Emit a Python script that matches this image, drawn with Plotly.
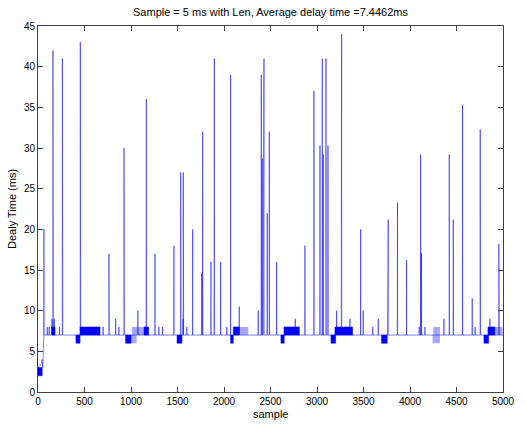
import plotly.graph_objects as go

# single-sample spikes above the 7 ms baseline: sample index and peak delay (ms)
spike_x = [64, 100, 120, 150, 161, 163, 175, 232, 262, 265, 455, 458, 700, 763, 765,
           835, 870, 925, 927, 1074, 1165, 1258, 1300, 1340, 1462, 1534, 1536, 1560,
           1562, 1565, 1600, 1663, 1760, 1770, 1772, 1860, 1893, 1896, 1898, 1964,
           2030, 2071, 2164, 2368, 2401, 2412, 2422, 2430, 2465, 2487, 2489, 2566,
           2766, 2870, 2967, 3030, 3032, 3034, 3057, 3068, 3096, 3099, 3118, 3211,
           3262, 3265, 3354, 3469, 3497, 3600, 3659, 3759, 3766, 3864, 3866, 3963,
           4099, 4114, 4124, 4160, 4365, 4422, 4424, 4465, 4467, 4565, 4669, 4700,
           4755, 4757, 4859, 4955, 4960]
spike_y = [20, 8, 8, 9, 42, 40, 9, 8, 41, 23.5, 43, 15.5, 8, 17, 9.5,
           9, 8, 30, 18.5, 10, 36, 17, 8, 8, 18, 27, 15.5, 9,
           27, 16, 8, 20, 14.6, 32, 22, 16, 37, 41, 23.5, 16,
           8, 39, 10.5, 10, 39, 28.7, 24, 41, 22, 32, 29.7, 16,
           9, 18, 37, 16.6, 30.3, 27.2, 41, 29.2, 41, 40.3, 30.3, 10,
           42, 44, 9, 20, 10, 8, 9, 14.6, 21.2, 12.6, 23.3, 16.2,
           8, 29.2, 17.1, 8, 9, 29.2, 25.7, 21.2, 10.6, 35.3, 11.5, 8,
           32.3, 16.2, 9, 18.2, 16.2]

# start of the record, before the baseline settles
lead_x = [0, 40, 43, 52, 62]
lead_y = [3, 3.5, 4, 3, 7]

# dense stretches where the delay flips between two levels: start, end, low, high
dense_start = [0, 147, 408, 452, 942, 1140, 1495, 2071, 2100, 2612, 2645, 3150, 3193,
               3694, 4795, 4838]
dense_end = [45, 183, 452, 667, 1000, 1190, 1548, 2100, 2164, 2648, 2810, 3200, 3383,
             3755, 4845, 4912]
dense_low = [2, 7, 6, 7, 6, 7, 6, 6, 7, 6, 7, 6, 7, 6, 6, 7]
dense_high = [3, 8, 7, 8, 7, 8, 7, 7, 8, 7, 8, 7, 8, 7, 7, 8]

# sparser stretches of the same kind (drawn paler)
sparse_start = [1000, 1010, 2164, 4243, 4250, 4912]
sparse_end = [1060, 1140, 2261, 4322, 4322, 4996]
sparse_low = [6, 7, 7, 6, 7, 7]
sparse_high = [7, 8, 8, 7, 8, 8]

BLUE = '#0000ff'
FONT = 'Liberation Sans, Arial'


def build_line():
    xs = list(lead_x)
    ys = list(lead_y)
    for sx, sy in sorted(zip(spike_x, spike_y)):
        xs += [sx - 1, sx, sx + 1]
        ys += [7, sy, 7]
    xs.append(5000)
    ys.append(7)
    return xs, ys


def build_boxes(starts, ends, lows, highs):
    xs, ys = [], []
    for s, e, lo, hi in zip(starts, ends, lows, highs):
        xs += [s, s, e, e, s, None]
        ys += [lo, hi, hi, lo, lo, None]
    return xs, ys


line_x, line_y = build_line()
dense_x, dense_y = build_boxes(dense_start, dense_end, dense_low, dense_high)
sparse_x, sparse_y = build_boxes(sparse_start, sparse_end, sparse_low, sparse_high)

trace_sparse = go.Scatter(
    x=sparse_x, y=sparse_y,
    mode='lines', fill='toself',
    fillcolor='rgba(0,0,255,0.35)',
    line=dict(width=0, color='rgba(0,0,255,0.35)'),
    hoverinfo='skip', showlegend=False,
)
trace_dense = go.Scatter(
    x=dense_x, y=dense_y,
    mode='lines', fill='toself',
    fillcolor=BLUE,
    line=dict(width=0.5, color=BLUE),
    hoverinfo='skip', showlegend=False,
)
trace_line = go.Scatter(
    x=line_x, y=line_y,
    mode='lines',
    line=dict(color='rgba(0,0,255,0.5)', width=1),
    showlegend=False,
)

axis_common = dict(
    showline=True, linecolor='#404040', linewidth=1,
    mirror='ticks', ticks='inside', ticklen=5, tickcolor='#404040',
    showgrid=False, zeroline=False, automargin=False,
    tickfont=dict(family=FONT, size=10, color='black'),
)

layout = go.Layout(
    width=525, height=425,
    margin=dict(l=38, r=22, t=26, b=33),
    paper_bgcolor='white', plot_bgcolor='white',
    title=dict(
        text='Sample = 5 ms with Len, Average delay time =7.4462ms',
        x=0.5, xref='paper', y=1 - 12 / 425, yref='container',
        xanchor='center', yanchor='middle',
        font=dict(family=FONT, size=11, color='black'),
    ),
    xaxis=dict(range=[0, 5000], tickvals=list(range(0, 5001, 500)), **axis_common),
    yaxis=dict(range=[0, 45], tickvals=list(range(0, 46, 5)), **axis_common),
    annotations=[
        dict(text='sample', xref='paper', yref='paper', x=0.5, y=-0.06,
             xanchor='center', yanchor='middle', showarrow=False,
             font=dict(family=FONT, size=11, color='black')),
        dict(text='Dealy Time (ms)', xref='paper', yref='paper', x=-0.056, y=0.5,
             xanchor='center', yanchor='middle', textangle=-90, showarrow=False,
             font=dict(family=FONT, size=11, color='black')),
    ],
)

fig = go.Figure(data=[trace_sparse, trace_dense, trace_line], layout=layout)
fig.write_html("out.html", config={'displayModeBar': False},
               post_script="document.body.style.margin='0';")
